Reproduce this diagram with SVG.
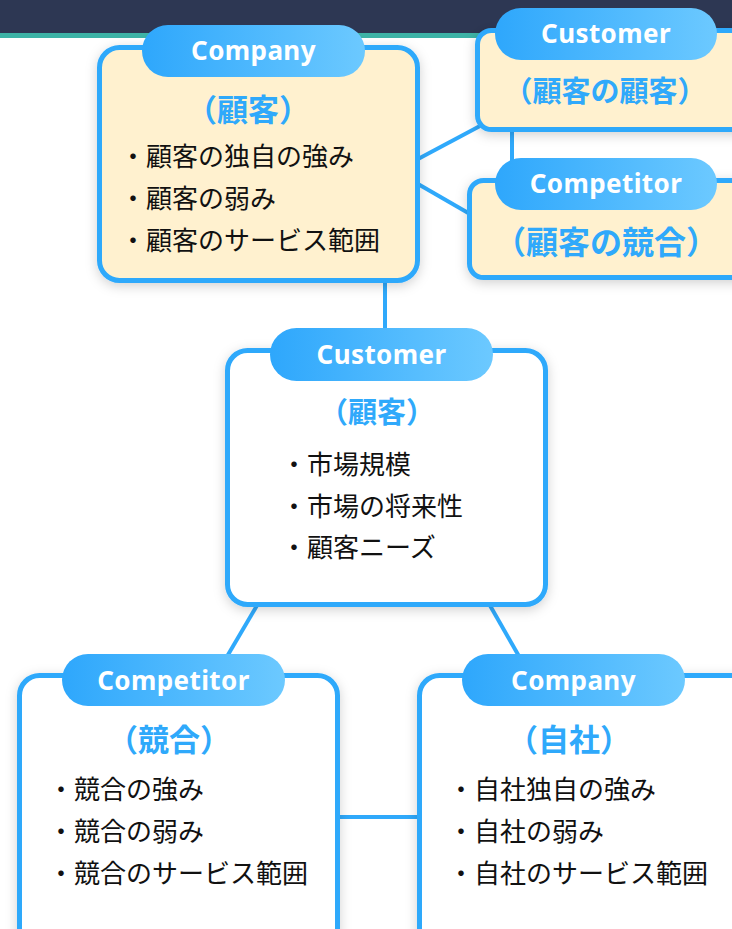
<svg xmlns="http://www.w3.org/2000/svg" width="732" height="929" viewBox="0 0 732 929">
  <defs>
    <linearGradient id="pillGrad" x1="0" y1="0" x2="1" y2="0">
      <stop offset="0" stop-color="#2ea7fc"/>
      <stop offset="1" stop-color="#6cc9ff"/>
    </linearGradient>
    <filter id="shadow" x="-20%" y="-20%" width="140%" height="140%">
      <feDropShadow dx="0" dy="3" stdDeviation="6" flood-color="#000" flood-opacity="0.18"/>
    </filter>
  </defs>
  <style>
    .box { stroke: #2fa9fb; stroke-width: 5; }
    .cream { fill: #fff1cf; }
    .white { fill: #ffffff; }
    .pill { fill: url(#pillGrad); }
    .pillText { font-family: "Noto Sans", "Lato", sans-serif; font-weight: 700; font-size: 26px; fill: #ffffff; text-anchor: middle; letter-spacing: 0.4px; }
    .sub { font-family: "Noto Sans CJK JP", "Noto Sans", sans-serif; font-weight: 700; fill: #2fa9fb; text-anchor: middle; dominant-baseline: central; }
    .item { font-family: "Noto Sans CJK JP", "Noto Sans", sans-serif; font-size: 26px; fill: #111111; dominant-baseline: central; }
    .conn { stroke: #2fa9fb; stroke-width: 4; fill: none; }
  </style>

  <!-- header bar -->
  <rect x="0" y="0" width="732" height="34" fill="#2d3753"/>
  <rect x="0" y="33" width="732" height="5" fill="#3db3a6"/>

  <!-- connectors -->
  <g id="connectors">
    <line class="conn" x1="418" y1="159" x2="480" y2="126"/>
    <line class="conn" x1="418" y1="184" x2="470" y2="214"/>
    <line class="conn" x1="512" y1="128" x2="512" y2="170"/>
    <line class="conn" x1="385" y1="278" x2="385" y2="345"/>
    <line class="conn" x1="259" y1="602" x2="222" y2="665"/>
    <line class="conn" x1="488" y1="602" x2="524" y2="665"/>
    <line class="conn" x1="337" y1="817" x2="420" y2="817"/>
  </g>

  <!-- top-left: Company (顧客) -->
  <g id="node-customer-company">
    <rect class="box cream" x="99.5" y="47.5" width="318" height="233" rx="20" filter="url(#shadow)"/>
    <rect class="pill" x="142" y="25" width="223" height="52" rx="26"/>
    <text class="pillText" x="253.5" y="60">Company</text>
    <text class="sub" x="248" y="107" font-size="31">（顧客）</text>
    <text class="item" x="120" y="154">・顧客の独自の強み</text>
    <text class="item" x="120" y="196">・顧客の弱み</text>
    <text class="item" x="120" y="238">・顧客のサービス範囲</text>
  </g>

  <!-- top-right: Customer (顧客の顧客) -->
  <g id="node-customer-customer">
    <rect class="box cream" x="477.5" y="30.5" width="300" height="99" rx="14" filter="url(#shadow)"/>
    <rect class="pill" x="495" y="8" width="222" height="52" rx="26"/>
    <text class="pillText" x="606" y="43">Customer</text>
    <text class="sub" x="605" y="89" font-size="29">（顧客の顧客）</text>
  </g>

  <!-- top-right: Competitor (顧客の競合) -->
  <g id="node-customer-competitor">
    <rect class="box cream" x="469.5" y="180.5" width="300" height="97" rx="14" filter="url(#shadow)"/>
    <rect class="pill" x="495" y="158" width="222" height="52" rx="26"/>
    <text class="pillText" x="606" y="193">Competitor</text>
    <text class="sub" x="606" y="240" font-size="32">（顧客の競合）</text>
  </g>

  <!-- center: Customer (顧客) -->
  <g id="node-customer">
    <rect class="box white" x="227.5" y="350.5" width="318" height="254" rx="20" filter="url(#shadow)"/>
    <rect class="pill" x="270" y="328" width="223" height="53" rx="26.5"/>
    <text class="pillText" x="381.5" y="364">Customer</text>
    <text class="sub" x="377" y="410" font-size="29">（顧客）</text>
    <text class="item" x="281" y="462.5">・市場規模</text>
    <text class="item" x="281" y="504.5">・市場の将来性</text>
    <text class="item" x="281" y="545.5">・顧客ニーズ</text>
  </g>

  <!-- bottom-left: Competitor (競合) -->
  <g id="node-competitor">
    <rect class="box white" x="19.5" y="675.5" width="318" height="300" rx="20" filter="url(#shadow)"/>
    <rect class="pill" x="62" y="654" width="223" height="52" rx="26"/>
    <text class="pillText" x="173.5" y="690">Competitor</text>
    <text class="sub" x="169" y="737" font-size="31">（競合）</text>
    <text class="item" x="48" y="787.5">・競合の強み</text>
    <text class="item" x="48" y="829.5">・競合の弱み</text>
    <text class="item" x="48" y="871.5">・競合のサービス範囲</text>
  </g>

  <!-- bottom-right: Company (自社) -->
  <g id="node-company">
    <rect class="box white" x="419.5" y="675.5" width="340" height="300" rx="20" filter="url(#shadow)"/>
    <rect class="pill" x="462" y="654" width="223" height="52" rx="26"/>
    <text class="pillText" x="573.5" y="690">Company</text>
    <text class="sub" x="569" y="737" font-size="31">（自社）</text>
    <text class="item" x="448" y="787.5">・自社独自の強み</text>
    <text class="item" x="448" y="829.5">・自社の弱み</text>
    <text class="item" x="448" y="871.5">・自社のサービス範囲</text>
  </g>
</svg>
